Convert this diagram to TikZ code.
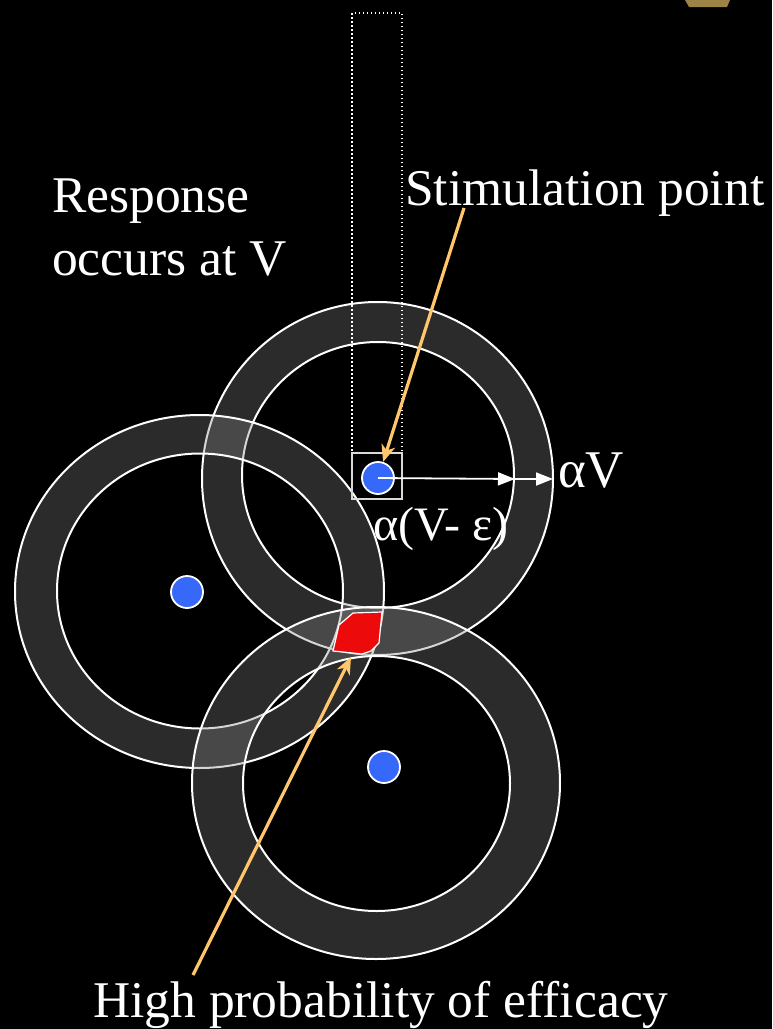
\documentclass[tikz,border=0pt]{standalone}
\usepackage{fontspec}
\setmainfont{Liberation Serif}
\usetikzlibrary{arrows.meta}
\definecolor{ringgray}{RGB}{132,132,132}
\definecolor{dotblue}{RGB}{54,104,250}
\definecolor{hotred}{RGB}{236,10,10}
\definecolor{pointer}{RGB}{255,198,107}
\definecolor{goldish}{RGB}{156,132,70}
\begin{document}
\begin{tikzpicture}[x=1pt,y=-1pt,
 ringfill/.style={fill=ringgray, fill opacity=0.33, even odd rule},
 ringline/.style={draw=white, line width=2pt},
 bluedot/.style={circle, fill=dotblue, draw=white, line width=1.8pt, minimum size=32pt, inner sep=0pt},
 txt/.style={text=white, inner sep=0pt, anchor=base west, font=\fontsize{51.5}{60}\selectfont},
 pointerarrow/.style={draw=pointer, line width=3.2pt, -{Stealth[length=17pt,width=14pt,inset=5pt]}},
 whitearrow/.style={draw=white, line width=1.8pt, -{Triangle[length=17pt,width=13pt]}}]

\fill[black] (0,0) rectangle (772,1029);
\useasboundingbox (0,0) rectangle (772,1029);

% gold fragment top right
\fill[goldish] (685,0) -- (730,0) -- (727,7) -- (689,7) -- cycle;

% top ring
\fill[ringfill] (377.5,478.5) ellipse [x radius=175.5pt, y radius=176.5pt] (378,475) ellipse [x radius=136pt, y radius=133pt];
\draw[ringline] (377.5,478.5) ellipse [x radius=175.5pt, y radius=176.5pt];
\draw[ringline] (378,475) ellipse [x radius=136pt, y radius=133pt];

% left ring
\fill[ringfill] (199.5,591.5) ellipse [x radius=184.5pt, y radius=176.5pt] (200,591) ellipse [x radius=143pt, y radius=137.5pt];
\draw[ringline] (199.5,591.5) ellipse [x radius=184.5pt, y radius=176.5pt];
\draw[ringline] (200,591) ellipse [x radius=143pt, y radius=137.5pt];

% bottom ring
\fill[ringfill] (376,783) ellipse [x radius=184pt, y radius=176pt] (376.5,783.5) ellipse [x radius=133.5pt, y radius=127.5pt];
\draw[ringline] (376,783) ellipse [x radius=184pt, y radius=176pt];
\draw[ringline] (376.5,783.5) ellipse [x radius=133.5pt, y radius=127.5pt];

% high probability region
\filldraw[fill=hotred, draw=white, line width=1.2pt] (353,613) -- (382,612) -- (379,643) -- (371,651) -- (362,654) -- (333,651) -- (339,625) -- (346,619) -- cycle;

% dotted column and box
\draw[white, line width=1.3pt, dash pattern=on 1.5pt off 2.5pt] (352,13) rectangle (402,453);
\node[draw=white!85!black, line width=1.8pt, minimum width=50pt, minimum height=46pt, inner sep=0pt] (sbox) at (377,476) {};

% blue dots
\node[bluedot] (ldot) at (187,592) {};
\node[bluedot] (bdot) at (384,767) {};
\node[bluedot] (sdot) at (378,478) {};

% radius arrows
\coordinate (a1) at (515,479);
\coordinate (a2) at (553,479);
\draw[whitearrow] (sdot.center) -- (a1);
\draw[whitearrow] (a1) -- (a2);

% labels
\node[txt] (resp1) at (52,212) {Response};
\node[txt] (resp2) at (52,275) {occurs at V};
\node[txt] (stim) at (405,205) {Stimulation point};
\node[txt] (high) at (93,1017) {High probability of efficacy};
\node[txt, font=\fontsize{53}{60}\selectfont] (av) at (558,487) {αV};
\node[txt, font=\fontsize{48}{56}\selectfont] (ave) at (373,540) {α(V- ε)};

% pointer arrows
\coordinate (stimtail) at (464,208);
\draw[pointerarrow] (stimtail) -- (sdot);
\coordinate (hightail) at (193,975);
\coordinate (redtip) at (351,657);
\draw[pointerarrow] (hightail) -- (redtip);
\end{tikzpicture}
\end{document}
